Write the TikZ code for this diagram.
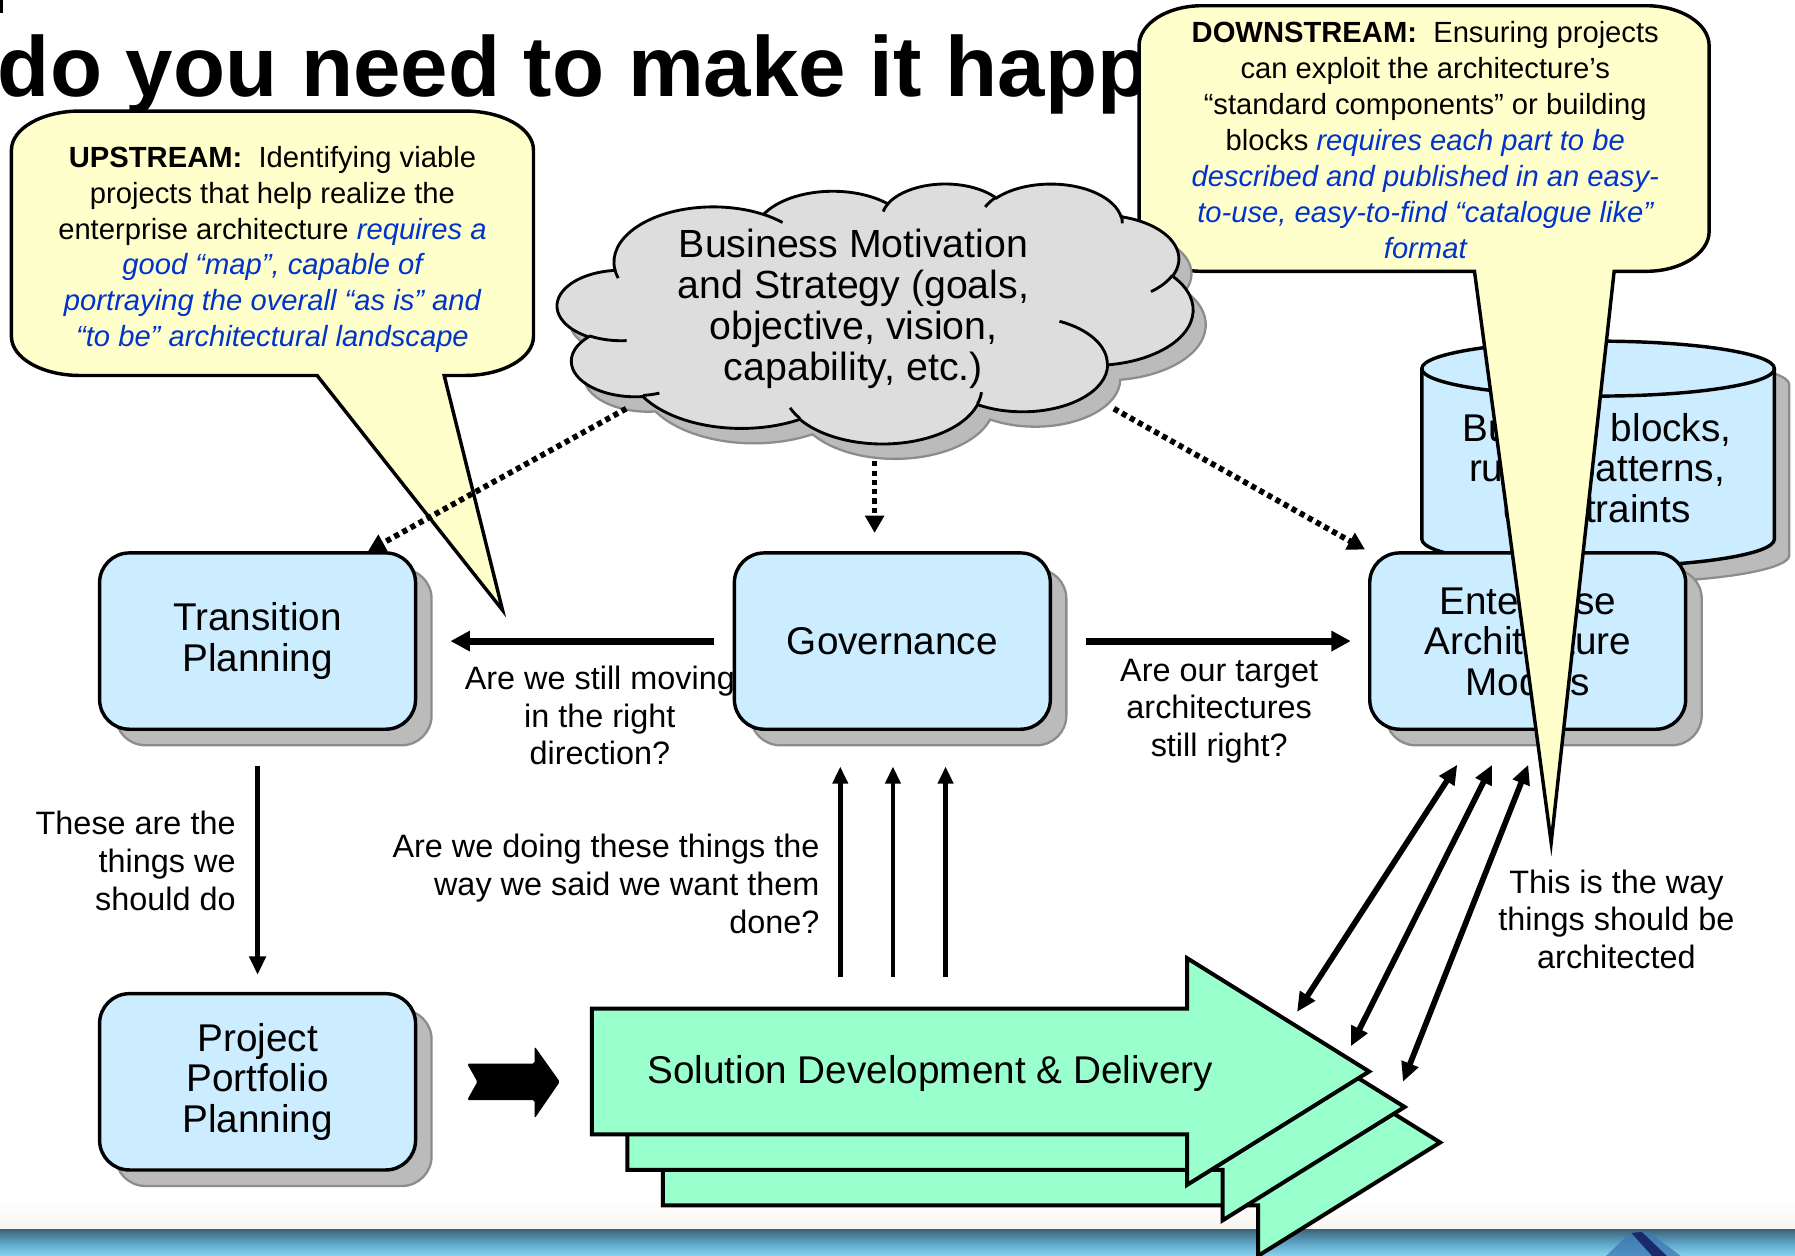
\documentclass[tikz,border=0pt]{standalone}
\usepackage{fontspec}
\setmainfont{Liberation Sans}
\usetikzlibrary{arrows.meta,shadows,calc}

\definecolor{boxblue}{HTML}{CCECFF}
\definecolor{callyellow}{HTML}{FFFFCC}
\definecolor{cloudgray}{HTML}{DDDDDD}
\definecolor{shadowgray}{HTML}{BBBBBB}
\definecolor{shadowedge}{HTML}{8C8C8C}
\definecolor{solgreen}{HTML}{99FFCC}
\definecolor{noteblue}{HTML}{0033CC}
\definecolor{bandA}{HTML}{3E6479}
\definecolor{bandB}{HTML}{5DA3C6}
\definecolor{bandC}{HTML}{88D4F2}
\definecolor{bandpale}{HTML}{F8F5F0}
\definecolor{logoA}{HTML}{3C78B4}
\definecolor{logoB}{HTML}{1B2A6B}

% OOXML arcTo (visual angles, y down) -> TikZ parametric angles (y up)
\newcommand\cloudarcdef[5]{%
  \pgfmathsetmacro\cldtmpS{atan2((#2)*sin(#4),(#3)*cos(#4))}%
  \pgfmathsetmacro\cldtmpE{atan2((#2)*sin((#4)+(#5)),(#3)*cos((#4)+(#5)))}%
  \pgfmathsetmacro\cldtmpD{\cldtmpE-\cldtmpS}%
  \pgfmathsetmacro\cldtmpD{\cldtmpD+360*round(((#5)-\cldtmpD)/360)}%
  \pgfmathsetmacro\cldtmpS{0-(\cldtmpS)}%
  \pgfmathsetmacro\cldtmpD{0-(\cldtmpD)}%
  \expandafter\xdef\csname cldS#1\endcsname{\cldtmpS}%
  \expandafter\xdef\csname cldD#1\endcsname{\cldtmpD}%
}
\newcommand\cloudoutline{(390,1437)
  arc[start angle=\cldSa, delta angle=\cldDa, x radius=675.3pt, y radius=919.0pt]
  arc[start angle=\cldSb, delta angle=\cldDb, x radius=533.3pt, y radius=726.7pt]
  arc[start angle=\cldSc, delta angle=\cldDc, x radius=436.5pt, y radius=594.5pt]
  arc[start angle=\cldSd, delta angle=\cldDd, x radius=485.7pt, y radius=659.5pt]
  arc[start angle=\cldSe, delta angle=\cldDe, x radius=533.3pt, y radius=727.3pt]
  arc[start angle=\cldSf, delta angle=\cldDf, x radius=677.5pt, y radius=922.0pt]
  arc[start angle=\cldSg, delta angle=\cldDg, x radius=578.5pt, y radius=786.7pt]
  arc[start angle=\cldSh, delta angle=\cldDh, x radius=675.2pt, y radius=921.5pt]
  arc[start angle=\cldSi, delta angle=\cldDi, x radius=772.0pt, y radius=1054.3pt]
  arc[start angle=\cldSj, delta angle=\cldDj, x radius=436.0pt, y radius=591.8pt]
  arc[start angle=\cldSk, delta angle=\cldDk, x radius=434.5pt, y radius=594.5pt]
  -- cycle}

\begin{document}
\begin{tikzpicture}[x=1pt,y=-1pt,
  procbox/.style={draw=black, line width=3pt, fill=boxblue, rounded corners=26pt,
    minimum width=276pt, minimum height=154pt, align=center, inner sep=0pt,
    font=\fontsize{33.8}{35.5}\selectfont,
    drop shadow={shadow xshift=14pt, shadow yshift=-14pt, fill=shadowgray,
      draw=shadowedge, line width=2pt, opacity=1}},
  boxtext/.style={font=\fontsize{33.8}{35.5}\selectfont, align=center, inner sep=0pt},
  soltext/.style={font=\fontsize{33.8}{35.5}\selectfont, inner sep=0pt},
  lbl/.style={font=\fontsize{28.3}{32.9}\selectfont, inner sep=0pt},
  notetext/.style={font=\fontsize{25.5}{31.4}\selectfont, align=center, inner sep=0pt},
  callout/.style={fill=callyellow, draw=black, line width=3pt, line join=miter},
  hbarr/.style={line width=6pt, -{Triangle[length=17pt,width=17pt]}},
  vbarr/.style={line width=4.5pt, -{Triangle[length=16pt,width=14pt]}},
  upbarr/.style={line width=4pt, -{Triangle[length=15pt,width=13pt]}},
  dbarr/.style={line width=5pt, {Triangle[length=17pt,width=15pt]}-{Triangle[length=17pt,width=15pt]}},
  dotarr/.style={line width=5pt, dash pattern=on 4.5pt off 3.6pt, -{Triangle[length=15pt,width=16pt]}},
  solarrow/.style={fill=solgreen, draw=black, line width=3.5pt, line join=miter},
  cyl/.style={line width=3pt, draw=black, fill=boxblue},
  cylshadow/.style={line width=2pt, draw=shadowedge, fill=shadowgray},
]
\useasboundingbox (0,0) rectangle (1568,1097);
\fill[white] (0,0) rectangle (1568,1097);

% cloud geometry
\cloudarcdef{a}{675.3}{919.0}{-190.4875}{123.7805}
\cloudarcdef{b}{533.3}{726.7}{-144.1024}{89.9452}
\cloudarcdef{c}{436.5}{594.5}{-145.8079}{99.7230}
\cloudarcdef{d}{485.7}{659.5}{-130.9861}{117.2417}
\cloudarcdef{e}{533.3}{727.3}{-78.7089}{109.0269}
\cloudarcdef{f}{677.5}{922.0}{-46.2673}{130.2690}
\cloudarcdef{g}{578.5}{786.7}{0.6250}{114.0333}
\cloudarcdef{h}{675.2}{921.5}{22.4516}{115.1726}
\cloudarcdef{i}{772.0}{1054.3}{66.2426}{75.7110}
\cloudarcdef{j}{436.0}{591.8}{-274.9421}{146.7356}
\cloudarcdef{k}{434.5}{594.5}{-246.8285}{152.5189}
\cloudarcdef{m}{434.5}{594.5}{86.7420}{26.4295}
\cloudarcdef{n}{436.0}{591.8}{73.6105}{11.4475}
\cloudarcdef{o}{675.2}{921.5}{137.6242}{14.0811}
\cloudarcdef{p}{675.2}{921.5}{6.4533}{15.9984}
\cloudarcdef{q}{578.5}{786.7}{-70.2924}{70.9174}
\cloudarcdef{r}{533.3}{727.3}{30.3180}{27.7515}
\cloudarcdef{s}{485.7}{659.5}{-13.7443}{14.8589}
\cloudarcdef{t}{485.7}{659.5}{-149.1815}{18.1954}
\cloudarcdef{u}{436.5}{594.5}{-163.4943}{17.6864}
\cloudarcdef{v}{675.3}{919.0}{-66.7070}{12.3194}
\cloudarcdef{w}{675.3}{919.0}{157.6544}{11.8582}

% bottom band
\shade[top color=white, bottom color=bandpale] (0,1048) rectangle (1568,1074);
\shade[top color=bandA, bottom color=bandC, middle color=bandB] (0,1074) rectangle (1568,1097);
\fill[logoA, opacity=0.75] (1403,1097) -- (1424,1077) -- (1440,1076) -- (1468,1097) -- cycle;
\fill[logoB] (1425,1077) -- (1434,1076) -- (1456,1097) -- (1443,1097) -- cycle;

% title
\fill (0,0) rectangle (3,11);
\node[anchor=base west, inner sep=0pt, font=\fontsize{74.5}{80}\selectfont\bfseries] (title) at (-2,84.5) {do you need to make it happ};

% labels
\node[lbl, align=center] (q1) at (524,625) {Are we still moving\\in the right\\direction?};
\node[lbl, align=center] (q2) at (1065,621) {Are our target\\architectures\\still right?};
\node[lbl, align=right, anchor=east] (q3) at (206,752) {These are the\\things we\\should do};
\node[lbl, align=right, anchor=east] (q4) at (716,772) {Are we doing these things the\\way we said we want them\\done?};
\node[lbl, align=center] (q5) at (1412,803) {This is the way\\things should be\\architected};

% boxes
\node[procbox] (tp) at (225,560) {Transition\\Planning};
\node[procbox] (gov) at (779.5,560) {Governance};
\node[procbox] (pp) at (225,945) {Project\\Portfolio\\Planning};

% cylinder
\begin{scope}[shift={(13,14)}]
  \path[cylshadow] (1242,322) -- (1242,471) arc[start angle=180, end angle=360, x radius=154pt, y radius=24pt] -- (1550,322) arc[start angle=0, end angle=180, x radius=154pt, y radius=24pt] -- cycle;
\end{scope}
\path[cyl] (1242,322) -- (1242,471) arc[start angle=180, end angle=360, x radius=154pt, y radius=24pt] -- (1550,322) arc[start angle=0, end angle=180, x radius=154pt, y radius=24pt] -- cycle;
\draw[line width=3pt] (1242,322) arc[start angle=180, end angle=360, x radius=154pt, y radius=24pt];
\node[boxtext] (bb) at (1395,408.7) {Building blocks,\\rules, patterns,\\constraints};

\node[procbox] (ea) at (1334.5,560) {Enterprise\\Architecture\\Models};

% solid connectors
\draw[hbarr, shorten <=16pt, shorten >=29pt] (gov.west) -- (tp.east);
\draw[hbarr, shorten <=30pt, shorten >=15pt] (gov.east) -- (ea.west);
\draw[vbarr, shorten <=31pt, shorten >=15pt] (tp.south) -- (pp.north);
\foreach \ux [count=\i] in {734,780,826} {
  \coordinate (up\i) at (\ux,853);
  \draw[upbarr, shorten >=31pt] (up\i) -- (up\i |- gov.south);
}
\coordinate (s1) at (1133,884);   \coordinate (e1) at (1273,668);
\coordinate (s2) at (1180,914);   \coordinate (e2) at (1303.5,668);
\coordinate (s3) at (1225.5,945); \coordinate (e3) at (1335,668);
\draw[dbarr] (s1) -- (e1);
\draw[dbarr] (s2) -- (e2);
\draw[dbarr] (s3) -- (e3);

% block arrow
\fill[black, rounded corners=1.5pt] (408,929) -- (467,929) -- (467,914) -- (489,945) -- (467,977) -- (467,961) -- (408,961) -- (417,945) -- cycle;

% solution arrows
\foreach \o in {62,31,0} {
  \begin{scope}[shift={(\o,\o)}]
    \draw[solarrow] (517,881) -- (1037,881) -- (1037,837) -- (1196,936) -- (1037,1035) -- (1037,991) -- (517,991) -- cycle;
  \end{scope}
}
\node[soltext, anchor=base] (sol) at (812.6,946.3) {Solution Development \& Delivery};

% downstream callout
\draw[callout] (1288,237) -- (1355,736) -- (1410,237) -- (1438,237)
  arc[start angle=270, end angle=360, x radius=55pt, y radius=35pt] -- (1493,40)
  arc[start angle=0, end angle=90, x radius=55pt, y radius=35pt] -- (1050,5)
  arc[start angle=90, end angle=180, x radius=55pt, y radius=35pt] -- (995,202)
  arc[start angle=180, end angle=270, x radius=55pt, y radius=35pt] -- cycle;
\node[notetext] (downtext) at (1245,122.3) {\textbf{DOWNSTREAM:}\ \ Ensuring projects\\can exploit the architecture’s\\“standard components” or building\\blocks \textcolor{noteblue}{\itshape requires each part to be}\\\textcolor{noteblue}{\itshape described and published in an easy-}\\\textcolor{noteblue}{\itshape to-use, easy-to-find “catalogue like”}\\\textcolor{noteblue}{\itshape format}};

% cloud
\begin{scope}[shift={(498,173)}, xscale=0.128472, yscale=0.052546]
  \path[fill=shadowgray, draw=shadowedge, line width=2pt] \cloudoutline;
\end{scope}
\begin{scope}[shift={(487,160)}, xscale=0.128472, yscale=0.052546]
  \path[fill=cloudgray, draw=black, line width=2.5pt] \cloudoutline;
  \begin{scope}[line width=2.5pt]
    \draw (469.3,2617.7) arc[start angle=\cldSm, delta angle=\cldDm, x radius=434.5pt, y radius=594.5pt];
    \draw (692.8,3489.9) arc[start angle=\cldSn, delta angle=\cldDn, x radius=436.0pt, y radius=591.8pt];
    \draw (1647.8,3909.0) arc[start angle=\cldSo, delta angle=\cldDo, x radius=675.2pt, y radius=921.5pt];
    \draw (2882.7,3475.1) arc[start angle=\cldSp, delta angle=\cldDp, x radius=675.2pt, y radius=921.5pt];
    \draw (3412.9,2295.4) arc[start angle=\cldSq, delta angle=\cldDq, x radius=578.5pt, y radius=786.7pt];
    \draw (4179.8,1535.4) arc[start angle=\cldSr, delta angle=\cldDr, x radius=533.3pt, y radius=727.3pt];
    \draw (3832.4,542.6) arc[start angle=\cldSs, delta angle=\cldDs, x radius=485.7pt, y radius=659.5pt];
    \draw (2907.8,395.2) arc[start angle=\cldSt, delta angle=\cldDt, x radius=485.7pt, y radius=659.5pt];
    \draw (2214.1,472.0) arc[start angle=\cldSu, delta angle=\cldDu, x radius=436.5pt, y radius=594.5pt];
    \draw (1400.0,519.2) arc[start angle=\cldSv, delta angle=\cldDv, x radius=675.3pt, y radius=919.0pt];
    \draw (412.7,1578.9) arc[start angle=\cldSw, delta angle=\cldDw, x radius=675.3pt, y radius=919.0pt];
  \end{scope}
\end{scope}
\node[boxtext, font=\fontsize{34.3}{35.7}\selectfont] (cloudtxt) at (745.5,269.7) {Business Motivation\\and Strategy (goals,\\objective, vision,\\capability, etc.)};

% upstream callout
\draw[callout] (277,328) -- (439,533) -- (388,328) -- (406,328)
  arc[start angle=270, end angle=360, x radius=60pt, y radius=34pt] -- (466,131)
  arc[start angle=0, end angle=90, x radius=60pt, y radius=34pt] -- (70,97)
  arc[start angle=90, end angle=180, x radius=60pt, y radius=34pt] -- (10,294)
  arc[start angle=180, end angle=270, x radius=60pt, y radius=34pt] -- cycle;
\node[notetext] (uptext) at (238,217.9) {\textbf{UPSTREAM:}\ \ Identifying viable\\projects that help realize the\\enterprise architecture \textcolor{noteblue}{\itshape requires a}\\\textcolor{noteblue}{\itshape good “map”, capable of}\\\textcolor{noteblue}{\itshape portraying the overall “as is” and}\\\textcolor{noteblue}{\itshape “to be” architectural landscape}};

% dotted connectors from the cloud
\coordinate (c1) at (547,357);
\coordinate (c2) at (764,403);
\coordinate (c3) at (973,357);
\draw[dotarr] (c1) -- ($(tp.north east)+(-43,0)$);
\draw[dotarr, shorten >=16pt] (c2) -- (c2 |- gov.north);
\draw[dotarr, shorten >=3pt] (c3) -- (ea.north west);
\end{tikzpicture}
\end{document}
